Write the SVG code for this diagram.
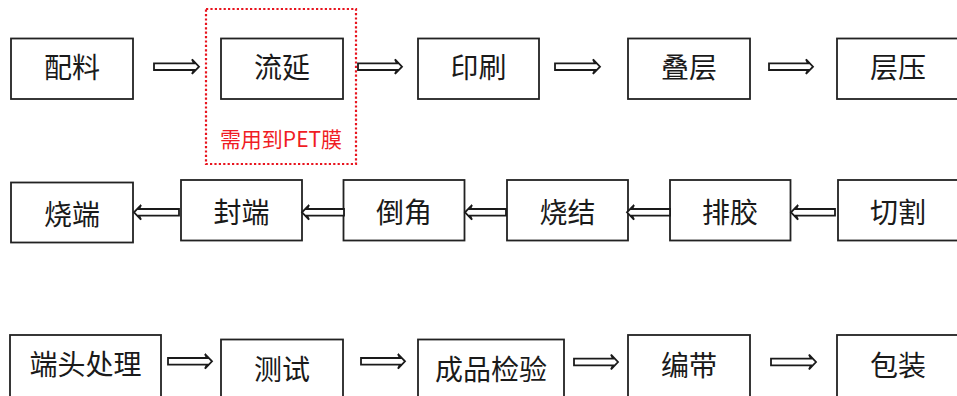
<svg xmlns="http://www.w3.org/2000/svg" width="957" height="396" viewBox="0 0 957 396">
<style>
.box{fill:#fff;stroke:#222;stroke-width:1.8}
.lbl{font-family:"Noto Sans CJK SC","Liberation Sans",sans-serif;font-size:28px;fill:#1a1a1a;text-anchor:middle}
.arr{fill:#fff;stroke:#1a1a1a;stroke-width:1.8;stroke-linejoin:miter}
.note{fill:none;stroke:#e8141e;stroke-width:2.2;stroke-dasharray:2.2 2.2}
.notet{font-family:"Noto Sans CJK SC","Liberation Sans",sans-serif;font-size:21px;fill:#f01c24;text-anchor:middle}
</style>
<rect width="957" height="396" fill="#fff"/>
<g id="note-pet">
<rect class="note" x="206" y="9" width="150" height="155"/>
<text class="notet" x="281" y="146.5">需用到PET膜</text>
</g>
<g id="n-peiliao"><rect class="box" x="11" y="38.5" width="122" height="60.5"/><text class="lbl" x="72" y="78">配料</text></g>
<g id="n-liuyan"><rect class="box" x="221" y="38.5" width="122" height="60.5"/><text class="lbl" x="282" y="78">流延</text></g>
<g id="n-yinshua"><rect class="box" x="418" y="38.5" width="121" height="60.5"/><text class="lbl" x="478.5" y="78">印刷</text></g>
<g id="n-dieceng"><rect class="box" x="628" y="38.5" width="122" height="60.5"/><text class="lbl" x="689" y="78">叠层</text></g>
<g id="n-cengya"><rect class="box" x="837" y="38.5" width="122" height="60.5"/><text class="lbl" x="898" y="78">层压</text></g>
<g id="n-shaoduan"><rect class="box" x="11" y="182.5" width="122" height="60"/><text class="lbl" x="72" y="225">烧端</text></g>
<g id="n-fengduan"><rect class="box" x="181" y="180" width="121" height="60.5"/><text class="lbl" x="241.5" y="223">封端</text></g>
<g id="n-daojiao"><rect class="box" x="343.5" y="180" width="121" height="60.5"/><text class="lbl" x="404" y="223">倒角</text></g>
<g id="n-shaojie"><rect class="box" x="507" y="180" width="121" height="60.5"/><text class="lbl" x="567.5" y="223">烧结</text></g>
<g id="n-paijiao"><rect class="box" x="670" y="180" width="120.5" height="60.5"/><text class="lbl" x="730" y="223">排胶</text></g>
<g id="n-qiege"><rect class="box" x="838" y="180" width="121" height="60.5"/><text class="lbl" x="898" y="223">切割</text></g>
<g id="n-duantou"><rect class="box" x="10" y="335" width="151" height="70"/><text class="lbl" x="85.5" y="375">端头处理</text></g>
<g id="n-ceshi"><rect class="box" x="221" y="339.5" width="122" height="70"/><text class="lbl" x="282" y="380">测试</text></g>
<g id="n-jianyan"><rect class="box" x="418" y="339.5" width="146" height="70"/><text class="lbl" x="491" y="380">成品检验</text></g>
<g id="n-biandai"><rect class="box" x="628" y="335" width="122" height="70"/><text class="lbl" x="689" y="376">编带</text></g>
<g id="n-baozhuang"><rect class="box" x="837" y="335" width="122" height="70"/><text class="lbl" x="898" y="376">包装</text></g>
<g id="connectors">
<path class="arr" d="M154 63.4H194L192 59.4L199 66.7L192 74L194 70H154Z"/>
<path class="arr" d="M358 63.4H397L395 59.4L402 66.7L395 74L397 70H358Z"/>
<path class="arr" d="M555 63.4H595L593 59.4L600 66.7L593 74L595 70H555Z"/>
<path class="arr" d="M769 63.4H808L806 59.4L813 66.7L806 74L808 70H769Z"/>
<path class="arr" d="M179 209H139L141 205L134 212.3L141 219.6L139 215.6H179Z"/>
<path class="arr" d="M344 209H307L309 205L302 212.3L309 219.6L307 215.6H344Z"/>
<path class="arr" d="M506 209H470L472 205L465 212.3L472 219.6L470 215.6H506Z"/>
<path class="arr" d="M670 209H632L634 205L627 212.3L634 219.6L632 215.6H670Z"/>
<path class="arr" d="M835 209H796L798 205L791 212.3L798 219.6L796 215.6H835Z"/>
<path class="arr" d="M168 358H207L205 354L212 361.3L205 368.6L207 364.6H168Z"/>
<path class="arr" d="M361 358H400L398 354L405 361.3L398 368.6L400 364.6H361Z"/>
<path class="arr" d="M574 358.7H613L611 354.7L618 362L611 369.3L613 365.3H574Z"/>
<path class="arr" d="M771 358.7H811L809 354.7L816 362L809 369.3L811 365.3H771Z"/>
</g>
</svg>
